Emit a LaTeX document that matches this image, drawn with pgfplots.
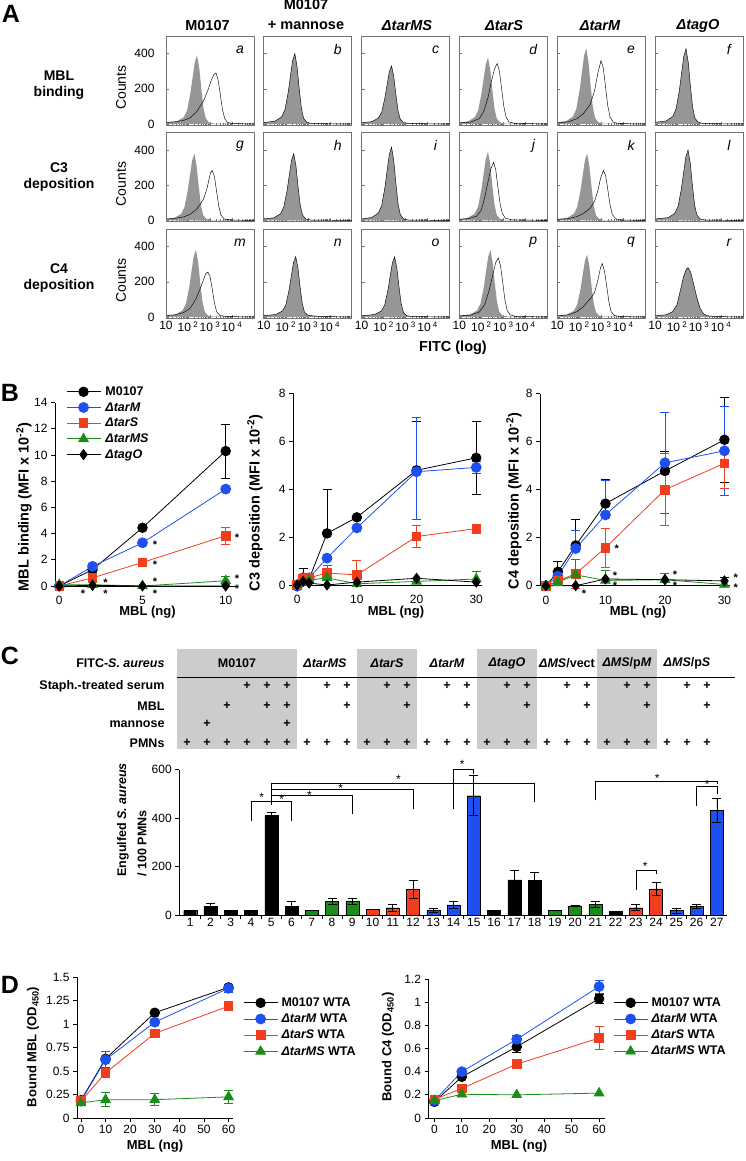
\documentclass[border=0pt]{standalone}
\usepackage{fontspec}
\setmainfont{Liberation Sans}
\usepackage{pgfplots}
\pgfplotsset{compat=1.18}
\usetikzlibrary{plotmarks}
\definecolor{cblue}{RGB}{30,80,240}
\definecolor{cred}{RGB}{240,62,30}
\definecolor{cgreen}{RGB}{25,140,25}
\definecolor{hgray}{RGB}{150,150,150}
\definecolor{boxgray}{RGB}{204,204,204}
\definecolor{framec}{RGB}{115,115,115}
\newcommand{\fs}[1]{\fontsize{#1}{#1}\selectfont}
\tikzset{star/.style={font=\bfseries\fs{11}, inner sep=0pt, yshift=-2.5pt}}

\pgfplotsset{
 every axis/.append style={/pgf/number format/assume math mode=true},
 histax/.style={scale only axis, width=88pt, height=89pt, anchor=north west,
   xmin=0, xmax=4, ymin=-6, ymax=500,
   axis line style={framec, line width=0.7pt},
   xtick={0,1,2,3}, xticklabels={},
   minor xtick={0.301,0.477,0.602,0.699,0.778,0.845,0.903,0.954,1.301,1.477,1.602,1.699,1.778,1.845,1.903,1.954,2.301,2.477,2.602,2.699,2.778,2.845,2.903,2.954,3.301,3.477,3.602,3.699,3.778,3.845,3.903,3.954},
   ytick={0,200,400}, yticklabels={},
   tick align=inside, xtick pos=bottom, ytick pos=left,
   tick style={framec, line width=0.5pt},
   major tick length=3pt, minor tick length=2pt,
   tick label style={font=\fs{12}},
   yticklabel style={xshift=-8pt},
 },
 bax/.style={scale only axis, anchor=south west, axis lines=left,
   axis line style={-, line width=0.8pt, black},
   ymin=0, tick align=outside, major tick length=4pt,
   tick style={black, line width=0.8pt},
   tick label style={font=\fs{12}},
   clip=false,
   legend image code/.code={\draw[mark repeat=2,mark phase=2] plot coordinates {(0pt,0pt) (17pt,0pt) (34pt,0pt)};},
 },
 sM/.style={black, line width=0.8pt, mark=*, mark size=4.8pt, mark options={solid,fill=black}},
 sT/.style={cblue, line width=0.8pt, mark=*, mark size=5pt, mark options={solid,fill=cblue}},
 sS/.style={cred, line width=0.8pt, mark=square*, mark size=4.3pt, mark options={solid,fill=cred}},
 sMS/.style={cgreen, line width=0.8pt, mark=triangle*, mark size=5.5pt, mark options={solid,fill=cgreen}},
 sO/.style={black, line width=0.8pt, mark=diamond*, mark size=5pt, mark options={solid,fill=black}},
 eb/.style={error bars/y dir=both, error bars/y explicit, error bars/error bar style={line width=0.8pt}, error bars/error mark options={rotate=90, mark size=4.5pt, line width=0.8pt}},
}

\newcommand{\hist}[6]{%
\begin{axis}[histax, at={(166pt+97.8pt*#1,-36pt-96.5pt*#2)}, #6]
\addplot[draw=none, fill=hgray] coordinates {#4} \closedcycle;
\addplot[black, line width=0.45pt] coordinates {#5};
\node[font=\itshape\fs{14}] at (rel axis cs:0.84,0.85) {#3};
\end{axis}}

\begin{document}
\begin{tikzpicture}
\path[use as bounding box] (0pt,0pt) rectangle (745pt,-1161pt);

% ================= Panel A =================
\node[font=\bfseries\fs{25}] at (11pt,-14pt) {A};
\begin{scope}[every node/.style={font=\bfseries\fs{14.5}}]
\node at (207.5pt,-25.5pt) {M0107};
\node at (306pt,-5pt) {M0107};
\node at (306pt,-25.5pt) {+ mannose};
\node at (407pt,-25.5pt) {\itshape ΔtarMS};
\node at (504pt,-25.5pt) {\itshape ΔtarS};
\node at (600pt,-25.5pt) {\itshape ΔtarM};
\node at (698pt,-25.5pt) {\itshape ΔtagO};
\node[align=center, font=\bfseries\fontsize{14}{16}\selectfont] at (59pt,-85pt) {MBL\\binding};
\node[align=center, font=\bfseries\fontsize{14}{16}\selectfont] at (59pt,-177.5pt) {C3\\deposition};
\node[align=center, font=\bfseries\fontsize{14}{16}\selectfont] at (59pt,-278pt) {C4\\deposition};
\node at (453pt,-347.5pt) {FITC (log)};
\end{scope}
\foreach \yy in {87.5,184,280.5} \node[rotate=90, font=\fs{14}] at (121pt,-\yy pt) {Counts};

% row 1
\hist{0}{0}{a}{(0,8)(0.51,16)(0.81,39)(0.96,78)(1.11,176)(1.21,265)(1.31,351)(1.41,390)(1.51,320)(1.61,195)(1.71,86)(1.81,31)(1.96,8)(2.21,2)(4,0)}
{(0,8)(0.4,12)(0.8,20)(1.1,35)(1.4,70)(1.7,130)(1.9,190)(2.05,245)(2.17,280)(2.27,291)(2.37,250)(2.47,165)(2.57,80)(2.67,30)(2.8,8)(3.1,2)(4,0)}{yticklabels={0,200,400}}
\hist{1}{0}{b}{(0,8)(0.51,16)(0.81,40)(0.96,80)(1.11,180)(1.21,272)(1.31,360)(1.41,400)(1.51,328)(1.61,200)(1.71,88)(1.81,32)(1.96,8)(2.21,2)(4,0)}
{(0,8)(0.51,16)(0.81,40)(0.96,80)(1.11,180)(1.21,272)(1.31,360)(1.41,400)(1.51,328)(1.61,200)(1.71,88)(1.81,32)(1.96,8)(2.21,2)(4,0)}{}
\hist{2}{0}{c}{(0,7)(0.46,13)(0.76,33)(0.91,66)(1.06,149)(1.16,224)(1.26,297)(1.36,330)(1.46,271)(1.56,165)(1.66,73)(1.76,26)(1.91,7)(2.16,2)(4,0)}
{(0,7)(0.46,13)(0.76,33)(0.91,66)(1.06,149)(1.16,224)(1.26,297)(1.36,330)(1.46,271)(1.56,165)(1.66,73)(1.76,26)(1.91,7)(2.16,2)(4,0)}{}
\hist{3}{0}{d}{(0,8)(0.4,15)(0.7,38)(0.85,75)(1.0,170)(1.1,256)(1.2,339)(1.3,377)(1.4,309)(1.5,189)(1.6,83)(1.7,30)(1.85,8)(2.1,2)(4,0)}
{(0,6)(0.5,10)(0.9,30)(1.1,70)(1.3,150)(1.45,240)(1.6,315)(1.72,343)(1.82,300)(1.92,200)(2.02,100)(2.12,40)(2.25,12)(2.5,3)(4,0)}{}
\hist{4}{0}{e}{(0,9)(0.42,17)(0.72,43)(0.87,86)(1.02,194)(1.12,292)(1.22,387)(1.32,430)(1.42,353)(1.52,215)(1.62,95)(1.72,34)(1.87,9)(2.12,2)(4,0)}
{(0,6)(0.5,12)(0.9,30)(1.2,60)(1.5,110)(1.7,190)(1.85,290)(1.99,360)(2.09,320)(2.19,220)(2.29,110)(2.4,40)(2.55,10)(2.8,2)(4,0)}{}
\hist{5}{0}{f}{(0,9)(0.51,17)(0.81,43)(0.96,86)(1.11,193)(1.21,291)(1.31,385)(1.41,428)(1.51,351)(1.61,214)(1.71,94)(1.81,34)(1.96,9)(2.21,2)(4,0)}
{(0,9)(0.51,17)(0.81,43)(0.96,86)(1.11,193)(1.21,291)(1.31,385)(1.41,428)(1.51,351)(1.61,214)(1.71,94)(1.81,34)(1.96,9)(2.21,2)(4,0)}{}
% row 2
\hist{0}{1}{g}{(0,8)(0.39,15)(0.69,38)(0.84,76)(0.99,171)(1.09,258)(1.19,342)(1.29,380)(1.39,312)(1.49,190)(1.59,84)(1.69,30)(1.84,8)(2.09,2)(4,0)}
{(0,8)(0.4,12)(0.8,20)(1.1,35)(1.4,65)(1.7,120)(1.85,175)(1.95,230)(2.02,270)(2.1,284)(2.2,250)(2.3,165)(2.4,80)(2.5,30)(2.65,8)(3.0,2)(4,0)}{yticklabels={0,200,400}}
\hist{1}{1}{h}{(0,8)(0.46,15)(0.76,38)(0.91,76)(1.06,171)(1.16,258)(1.26,342)(1.36,380)(1.46,312)(1.56,190)(1.66,84)(1.76,30)(1.91,8)(2.16,2)(4,0)}
{(0,8)(0.46,15)(0.76,38)(0.91,76)(1.06,171)(1.16,258)(1.26,342)(1.36,380)(1.46,312)(1.56,190)(1.66,84)(1.76,30)(1.91,8)(2.16,2)(4,0)}{}
\hist{2}{1}{i}{(0,8)(0.46,17)(0.76,42)(0.91,83)(1.06,188)(1.16,284)(1.26,375)(1.36,417)(1.46,342)(1.56,209)(1.66,92)(1.76,33)(1.91,8)(2.16,2)(4,0)}
{(0,8)(0.46,17)(0.76,42)(0.91,83)(1.06,188)(1.16,284)(1.26,375)(1.36,417)(1.46,342)(1.56,209)(1.66,92)(1.76,33)(1.91,8)(2.16,2)(4,0)}{}
\hist{3}{1}{j}{(0,8)(0.4,16)(0.7,39)(0.85,78)(1.0,176)(1.1,265)(1.2,351)(1.3,390)(1.4,320)(1.5,195)(1.6,86)(1.7,31)(1.85,8)(2.1,2)(4,0)}
{(0,6)(0.4,10)(0.8,25)(1.0,60)(1.15,130)(1.3,220)(1.42,290)(1.55,330)(1.65,290)(1.75,190)(1.85,95)(1.95,40)(2.1,12)(2.4,3)(4,0)}{}
\hist{4}{1}{k}{(0,8)(0.46,15)(0.76,38)(0.91,76)(1.06,171)(1.16,258)(1.26,342)(1.36,380)(1.46,312)(1.56,190)(1.66,84)(1.76,30)(1.91,8)(2.16,2)(4,0)}
{(0,6)(0.5,10)(0.9,22)(1.2,40)(1.5,70)(1.7,110)(1.85,170)(1.97,240)(2.1,284)(2.2,255)(2.3,175)(2.4,90)(2.5,35)(2.65,10)(2.9,2)(4,0)}{}
\hist{5}{1}{l}{(0,8)(0.6,16)(0.9,40)(1.05,80)(1.2,180)(1.3,272)(1.4,360)(1.5,400)(1.6,328)(1.7,200)(1.8,88)(1.9,32)(2.05,8)(2.3,2)(4,0)}
{(0,8)(0.6,16)(0.9,40)(1.05,80)(1.2,180)(1.3,272)(1.4,360)(1.5,400)(1.6,328)(1.7,200)(1.8,88)(1.9,32)(2.05,8)(2.3,2)(4,0)}{}
% row 3
\hist{0}{2}{m}{(0,8)(0.46,15)(0.76,38)(0.91,76)(1.06,172)(1.16,260)(1.26,344)(1.36,382)(1.46,313)(1.56,191)(1.66,84)(1.76,30)(1.91,8)(2.16,2)(4,0)}
{(0,8)(0.4,12)(0.8,25)(1.1,50)(1.35,100)(1.55,160)(1.7,210)(1.8,245)(1.9,255)(2.0,230)(2.1,160)(2.2,80)(2.3,30)(2.45,8)(2.8,2)(4,0)}{yticklabels={0,200,400}, xticklabels={10,10\textsuperscript{ 2},10\textsuperscript{ 3},10\textsuperscript{ 4}}}
\hist{1}{2}{n}{(0,7)(0.55,14)(0.85,34)(1.0,68)(1.15,154)(1.25,233)(1.35,308)(1.45,342)(1.55,280)(1.65,171)(1.75,75)(1.85,27)(2.0,10)(2.3,5)(2.8,2)(4,0)}
{(0,7)(0.55,14)(0.85,34)(1.0,68)(1.15,154)(1.25,233)(1.35,308)(1.45,342)(1.55,280)(1.65,171)(1.75,75)(1.85,27)(2.0,10)(2.3,5)(2.8,2)(4,0)}{xticklabels={10,10\textsuperscript{ 2},10\textsuperscript{ 3},10\textsuperscript{ 4}}}
\hist{2}{2}{o}{(0,7)(0.6,14)(0.9,34)(1.05,68)(1.2,154)(1.3,233)(1.4,308)(1.5,342)(1.6,280)(1.7,171)(1.8,75)(1.9,27)(2.05,7)(2.3,2)(4,0)}
{(0,7)(0.6,14)(0.9,34)(1.05,68)(1.2,154)(1.3,233)(1.4,308)(1.5,342)(1.6,280)(1.7,171)(1.8,75)(1.9,27)(2.05,7)(2.3,2)(4,0)}{xticklabels={10,10\textsuperscript{ 2},10\textsuperscript{ 3},10\textsuperscript{ 4}}}
\hist{3}{2}{p}{(0,8)(0.51,15)(0.81,38)(0.96,76)(1.11,171)(1.21,258)(1.31,342)(1.41,380)(1.51,312)(1.61,190)(1.71,84)(1.81,30)(1.96,8)(2.21,2)(4,0)}
{(0,6)(0.5,10)(0.9,28)(1.15,70)(1.35,150)(1.5,230)(1.65,310)(1.77,335)(1.87,290)(1.97,195)(2.07,95)(2.17,38)(2.3,12)(2.55,3)(4,0)}{xticklabels={10,10\textsuperscript{ 2},10\textsuperscript{ 3},10\textsuperscript{ 4}}}
\hist{4}{2}{q}{(0,7)(0.46,14)(0.76,35)(0.91,71)(1.06,159)(1.16,241)(1.26,319)(1.36,354)(1.46,290)(1.56,177)(1.66,78)(1.76,28)(1.91,7)(2.16,2)(4,0)}
{(0,6)(0.5,12)(0.9,30)(1.2,60)(1.4,90)(1.55,110)(1.7,140)(1.85,210)(1.97,280)(2.05,303)(2.15,260)(2.25,175)(2.35,85)(2.45,30)(2.6,8)(2.9,2)(4,0)}{xticklabels={10,10\textsuperscript{ 2},10\textsuperscript{ 3},10\textsuperscript{ 4}}}
\hist{5}{2}{r}{(0,6)(0.5,12)(0.8,30)(1.0,70)(1.15,150)(1.3,230)(1.42,270)(1.5,280)(1.62,255)(1.75,190)(1.9,110)(2.05,50)(2.2,18)(2.4,6)(2.8,2)(4,0)}
{(0,6)(0.5,12)(0.8,30)(1.0,70)(1.15,150)(1.3,230)(1.42,270)(1.5,280)(1.62,255)(1.75,190)(1.9,110)(2.05,50)(2.2,18)(2.4,6)(2.8,2)(4,0)}{xticklabels={10,10\textsuperscript{ 2},10\textsuperscript{ 3},10\textsuperscript{ 4}}}

% ================= Panel B =================
\node[font=\bfseries\fs{25}] at (10pt,-393pt) {B};
\begin{scope}[every node/.style={font=\bfseries\fs{14.5}, rotate=90}]
\node at (24pt,-507pt) {MBL binding (MFI x 10\textsuperscript{-2})};
\node at (255pt,-503pt) {C3 deposition (MFI x 10\textsuperscript{-2})};
\node at (514pt,-501pt) {C4 deposition (MFI x 10\textsuperscript{-2})};
\end{scope}
\begin{scope}[every node/.style={font=\bfseries\fs{13}}]
\node at (147.5pt,-612pt) {MBL (ng)};
\node at (396pt,-612pt) {MBL (ng)};
\node at (638pt,-612pt) {MBL (ng)};
\end{scope}

\begin{axis}[bax, at={(55.1pt,-586pt)}, width=180.6pt, height=183.4pt,
  xmin=-0.25, xmax=10.6, ymax=14, xtick={0,5,10}, ytick={0,2,4,6,8,10,12,14},
  x tick style={draw=none}, xticklabel style={yshift=-3pt},
  legend style={at={(0.06,1.096)}, anchor=north west, draw=none, fill=none,
    font=\bfseries\fs{12.5}, row sep=2.5pt, inner sep=0pt, nodes={inner sep=1.5pt},
    /tikz/every odd column/.append style={column sep=3pt}},
  legend cell align=left]
\addplot[sM, eb] coordinates {(0,0) (2,1.25) (5,4.45) (10,10.3) +- (0,2.05)};
\addlegendentry{M0107}
\addplot[sT, eb] coordinates {(0,0) (2,1.5) (5,3.3) +- (0,0.15) (10,7.4) +- (0,0.15)};
\addlegendentry{\itshape ΔtarM}
\addplot[sS, eb] coordinates {(0,0) (2,0.62) (5,1.8) (10,3.84) +- (0,0.67)};
\addlegendentry{\itshape ΔtarS}
\addplot[sMS, eb] coordinates {(0,0.1) (2,0.1) (5,0) (10,0.4) +- (0,0.3)};
\addlegendentry{\itshape ΔtarMS}
\addplot[sO, eb] coordinates {(0,0) (2,0.05) (5,0) (10,0)};
\addlegendentry{\itshape ΔtagO}
\begin{scope}[every node/.style={star}]
\node at (axis cs:5.75,3.38) {*};
\node at (axis cs:5.75,1.80) {*};
\node at (axis cs:5.75,0.51) {*};
\node at (axis cs:5.75,-0.36) {*};
\node at (axis cs:2.78,0.46) {*};
\node at (axis cs:2.78,-0.36) {*};
\node at (axis cs:1.42,-0.36) {*};
\node at (axis cs:10.68,3.89) {*};
\node at (axis cs:10.68,0.72) {*};
\node at (axis cs:10.68,-0.04) {*};
\end{scope}
\end{axis}

\begin{axis}[bax, at={(293pt,-585pt)}, width=189.2pt, height=192pt,
  xmin=-0.7, xmax=31, ymax=8, xtick={0,10,20,30}, ytick={0,2,4,6,8},
  x tick style={draw=none}, xticklabel style={yshift=-3pt}]
\addplot[sM, eb] coordinates {(0,0) (1,0.2) += (0,0.5) (2,0.25) (5,2.15) += (0,1.85) (10,2.82) (20,4.78) +- (0,2.05) (30,5.3) +- (0,1.52)};
\addplot[sT, eb] coordinates {(0,-0.05) (1,0.3) (2,0.3) (5,1.12) (10,2.38) (20,4.72) += (0,2.25) -= (0,2.0) (30,4.9) +- (0,0.25)};
\addplot[sS, eb] coordinates {(0,0) (1,0.25) (2,0.3) (5,0.5) += (0,0.3) (10,0.42) += (0,0.6) (20,2.02) +- (0,0.45) (30,2.35)};
\addplot[sMS, eb] coordinates {(0,0) (1,0.1) (2,0.2) (5,0.3) += (0,0.5) (10,0.05) (20,0.15) (30,0.25) += (0,0.3)};
\addplot[sO, eb] coordinates {(0,0) (1,0.15) (2,0.08) (5,0) (10,0.12) (20,0.28) (30,0.12)};
\end{axis}

\begin{axis}[bax, at={(540pt,-585.7pt)}, width=190.4pt, height=192pt,
  xmin=-1, xmax=31, ymax=8, xtick={0,10,20,30}, ytick={0,2,4,6,8},
  x tick style={draw=none}, xticklabel style={yshift=-3pt}]
\addplot[sM, eb] coordinates {(0,0) (2,0.58) += (0,0.42) (5,1.68) += (0,1.1) (10,3.42) += (0,1.03) (20,4.78) += (0,0.8) (30,6.08) +- (0,1.78)};
\addplot[sT, eb] coordinates {(0,0) (2,0.4) (5,1.55) += (0,0.75) (10,2.95) += (0,1.45) (20,5.12) +- (0,2.12) (30,5.62) +- (0,1.86)};
\addplot[sS, eb] coordinates {(0,0) (2,0.2) (5,0.5) +- (0,0.6) (10,1.58) +- (0,0.8) (20,4.0) +- (0,1.5) (30,5.1) +- (0,1.05)};
\addplot[sMS, eb] coordinates {(0,0) (2,0.15) (5,0.45) += (0,0.65) (10,0.22) += (0,0.4) (20,0.25) += (0,0.25) (30,0.05)};
\addplot[sO, eb] coordinates {(0,0) (5,0) (10,0.28) (20,0.25) (30,0.2) += (0,0.15)};
\begin{scope}[every node/.style={star}]
\node at (axis cs:11.9,1.63) {*};
\node at (axis cs:11.6,0.52) {*};
\node at (axis cs:11.6,0.1) {*};
\node at (axis cs:6.4,-0.25) {*};
\node at (axis cs:21.7,0.55) {*};
\node at (axis cs:21.7,0.1) {*};
\node at (axis cs:31.9,0.45) {*};
\node at (axis cs:31.9,0.0) {*};
\end{scope}
\end{axis}

% ================= Panel C =================
\node[font=\bfseries\fs{25}] at (10pt,-656pt) {C};
\fill[boxgray] (177pt,-649pt) rectangle (297pt,-749pt);
\fill[boxgray] (357pt,-649pt) rectangle (417pt,-749pt);
\fill[boxgray] (477pt,-649pt) rectangle (537pt,-749pt);
\fill[boxgray] (597pt,-649pt) rectangle (657pt,-749pt);
\draw[line width=0.8pt] (177pt,-677pt) -- (735pt,-677pt);
\begin{scope}[every node/.style={font=\bfseries\fs{12.5}, anchor=east}]
\node at (168pt,-663pt) {FITC-\textit{S. aureus}};
\node at (168pt,-686pt) {Staph.-treated serum};
\node at (168pt,-706pt) {MBL};
\node at (168pt,-724pt) {mannose};
\node at (168pt,-743pt) {PMNs};
\end{scope}
\begin{scope}[every node/.style={font=\bfseries\fs{12.5}}]
\node at (237pt,-663pt) {M0107};
\node at (325pt,-663pt) {\itshape ΔtarMS};
\node at (387pt,-663pt) {\itshape ΔtarS};
\node at (447pt,-663pt) {\itshape ΔtarM};
\node at (507pt,-663pt) {\itshape ΔtagO};
\node at (567pt,-663pt) {\textit{ΔMS}/vect};
\node at (627pt,-663pt) {\textit{ΔMS}/p\textit{M}};
\node at (687pt,-663pt) {\textit{ΔMS}/p\textit{S}};
\foreach \c in {4,5,6,8,9,11,12,14,15,17,18,20,21,23,24,26,27} \node at (167pt+20pt*\c,-686pt) {+};
\foreach \c in {3,5,6,9,12,15,18,21,24,27} \node at (167pt+20pt*\c,-706pt) {+};
\foreach \c in {2,6} \node at (167pt+20pt*\c,-724pt) {+};
\foreach \c in {1,...,27} \node at (167pt+20pt*\c,-743pt) {+};
\end{scope}
\node[rotate=90, anchor=west, font=\bfseries\fs{12.5}] at (123pt,-880pt) {Engulfed \textit{S. aureus}};
\node[rotate=90, anchor=west, font=\bfseries\fs{12.5}] at (142pt,-880pt) {/ 100 PMNs};

\begin{axis}[scale only axis, anchor=south west, at={(179.3pt,-915pt)}, width=547.7pt, height=145.5pt,
  axis lines=left, axis line style={-, line width=0.8pt, black},
  xmin=0.46, xmax=27.5, ymin=0, ymax=600, clip=false,
  tick align=outside, major tick length=4pt, tick style={black, line width=0.8pt},
  tick label style={font=\fs{12}},
  ytick={0,200,400,600},
  xtick={1.5,2.5,...,26.5}, xticklabels={},
  extra x ticks={1,2,...,27}, extra x tick style={major tick length=0pt},
  error bars/y dir=both, error bars/y explicit,
  error bars/error bar style={black, line width=0.7pt},
  error bars/error mark options={black, rotate=90, mark size=4.5pt, line width=0.7pt}]
\addplot[ybar, bar width=13pt, bar shift=0pt, fill=black, draw=black] coordinates {
 (1,18) +- (0,0) (2,35) +- (0,14) (3,18) +- (0,0) (4,18) +- (0,0) (5,410) +- (0,12) (6,35) +- (0,22)
 (16,20) +- (0,0) (17,145) +- (0,38) (18,143) +- (0,33) (22,15) +- (0,0)};
\addplot[ybar, bar width=13pt, bar shift=0pt, fill=cgreen, draw=black] coordinates {
 (7,18) +- (0,0) (8,55) +- (0,12) (9,58) +- (0,12) (19,18) +- (0,0) (20,38) +- (0,0) (21,45) +- (0,12)};
\addplot[ybar, bar width=13pt, bar shift=0pt, fill=cred, draw=black] coordinates {
 (10,22) +- (0,0) (11,30) +- (0,13) (12,105) +- (0,38) (23,30) +- (0,12) (24,108) +- (0,27)};
\addplot[ybar, bar width=13pt, bar shift=0pt, fill=cblue, draw=black] coordinates {
 (13,20) +- (0,8) (14,42) +- (0,15) (15,492) +- (0,83) (25,18) +- (0,10) (26,35) +- (0,8) (27,433) +- (0,50)};
\begin{scope}[line width=0.7pt]
\draw (axis cs:4,389) -- (axis cs:4,467) -- (axis cs:6,467) -- (axis cs:6,389);
\draw (axis cs:5,454) -- (axis cs:5,543);
\draw (axis cs:5,492) -- (axis cs:9,492) -- (axis cs:9,416);
\draw (axis cs:5,518) -- (axis cs:12,518) -- (axis cs:12,437);
\draw (axis cs:5,543) -- (axis cs:18,543) -- (axis cs:18,467);
\draw (axis cs:14,437) -- (axis cs:14,602) -- (axis cs:15,602) -- (axis cs:15,580);
\draw (axis cs:21,474) -- (axis cs:21,553) -- (axis cs:27,553) -- (axis cs:27,540);
\draw (axis cs:26,449) -- (axis cs:26,529) -- (axis cs:27,529) -- (axis cs:27,500);
\draw (axis cs:23,103) -- (axis cs:23,186) -- (axis cs:24,186) -- (axis cs:24,169);
\end{scope}
\begin{scope}[every node/.style={font=\fs{12}, inner sep=0pt, yshift=-2.5pt}]
\node at (axis cs:4.53,495) {*};
\node at (axis cs:5.52,487) {*};
\node at (axis cs:6.88,504) {*};
\node at (axis cs:8.43,532) {*};
\node at (axis cs:11.28,570) {*};
\node at (axis cs:14.43,631) {*};
\node at (axis cs:24.05,573) {*};
\node at (axis cs:26.52,548) {*};
\node at (axis cs:23.46,210) {*};
\end{scope}
\end{axis}

% ================= Panel D =================
\node[font=\bfseries\fs{25}] at (10pt,-985pt) {D};
\node[rotate=90, font=\bfseries\fs{13}] at (33pt,-1047pt) {Bound MBL (OD\textsubscript{450})};
\node[rotate=90, font=\bfseries\fs{13}] at (388pt,-1047pt) {Bound C4 (OD\textsubscript{450})};
\node[font=\bfseries\fs{13}] at (155pt,-1146pt) {MBL (ng)};
\node[font=\bfseries\fs{13}] at (519pt,-1146pt) {MBL (ng)};

\begin{axis}[bax, at={(77pt,-1118pt)}, width=156.5pt, height=141pt,
  xmin=-1.6, xmax=62, ymax=1.5, xtick={0,10,20,30,40,50,60},
  ytick={0,0.25,0.5,0.75,1,1.25,1.5}, yticklabels={0,0.25,0.5,0.75,1,1.25,1.5},
  legend style={at={(1.061,0.865)}, anchor=north west, draw=none, fill=none,
    font=\bfseries\fs{12.5}, row sep=3pt, inner sep=0pt, nodes={inner sep=1.5pt},
    /tikz/every odd column/.append style={column sep=2pt}},
  legend cell align=left]
\addplot[sM, eb] coordinates {(0,0.19) (10,0.63) (30,1.12) (60,1.39) +- (0,0.03)};
\addlegendentry{M0107 WTA}
\addplot[sT, eb] coordinates {(0,0.18) (10,0.62) +- (0,0.085) (30,1.02) +- (0,0.03) (60,1.38) +- (0,0.04)};
\addlegendentry{\textit{ΔtarM} WTA}
\addplot[sS, eb] coordinates {(0,0.18) (10,0.48) (30,0.9) (60,1.19)};
\addlegendentry{\textit{ΔtarS} WTA}
\addplot[sMS, eb] coordinates {(0,0.16) (10,0.195) +- (0,0.075) (30,0.195) +- (0,0.065) (60,0.225) +- (0,0.065)};
\addlegendentry{\textit{ΔtarMS} WTA}
\end{axis}

\begin{axis}[bax, at={(428.6pt,-1118pt)}, width=176pt, height=139pt,
  xmin=-2.1, xmax=62, ymax=1.2, xtick={0,10,20,30,40,50,60},
  ytick={0,0.2,0.4,0.6,0.8,1,1.2}, yticklabels={0,0.2,0.4,0.6,0.8,1,1.2},
  legend style={at={(1.048,0.878)}, anchor=north west, draw=none, fill=none,
    font=\bfseries\fs{12.5}, row sep=3pt, inner sep=0pt, nodes={inner sep=1.5pt},
    /tikz/every odd column/.append style={column sep=2pt}},
  legend cell align=left]
\addplot[sM, eb] coordinates {(0,0.14) (10,0.355) (30,0.615) +- (0,0.05) (60,1.03) +- (0,0.04)};
\addlegendentry{M0107 WTA}
\addplot[sT, eb] coordinates {(0,0.15) (10,0.4) +- (0,0.02) (30,0.68) +- (0,0.03) (60,1.135) +- (0,0.055)};
\addlegendentry{\textit{ΔtarM} WTA}
\addplot[sS, eb] coordinates {(0,0.16) (10,0.255) (30,0.465) (60,0.69) +- (0,0.1)};
\addlegendentry{\textit{ΔtarS} WTA}
\addplot[sMS, eb] coordinates {(0,0.15) (10,0.205) (30,0.2) (60,0.215)};
\addlegendentry{\textit{ΔtarMS} WTA}
\end{axis}

\end{tikzpicture}
\end{document}
